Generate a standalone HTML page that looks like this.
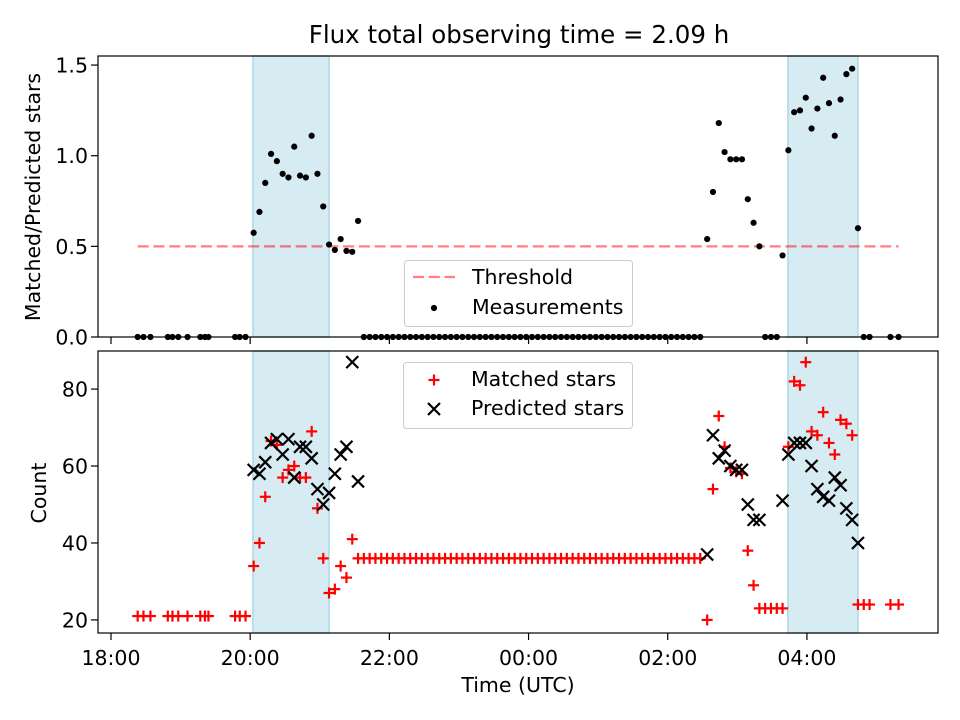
<!DOCTYPE html>
<html><head><meta charset="utf-8"><style>
html,body{margin:0;padding:0;background:#fff;}
svg{display:block;font-family:"DejaVu Sans","Liberation Sans",sans-serif;}
</style></head><body>
<svg id="chart" width="960" height="720" viewBox="0 0 960 720"></svg>
<script>
// minutes since 18:00
const times = [23,28,34,49,53,58,66,77,81,84,107,111,116,
123,128,133,138,143,148,153,158,163,168,173,178,183,188,193,198,203,208,213,
218,223,228,233,238,243,248,253,258,263,268,273,278,283,288,293,298,303,308,313,318,323,328,333,338,343,348,353,358,363,368,373,378,383,388,393,398,403,408,413,418,423,428,433,438,443,448,453,458,463,468,473,478,483,488,493,498,503,508,
514,519,524,529,534,539,544,549,554,559,564,569,574,579,584,589,594,599,604,609,614,619,624,629,634,639,644,649,654,672,679];
const ratio = [0,0,0,0,0,0,0,0,0,0,0,0,0,
0.575,0.69,0.85,1.01,0.97,0.90,0.88,1.05,0.89,0.88,1.11,0.90,0.72,0.51,0.48,0.54,0.475,0.47,0.64,
0,0,0,0,0,0,0,0,0,0,0,0,0,0,0,0,0,0,0,0,0,0,0,0,0,0,0,0,0,0,0,0,0,0,0,0,0,0,0,0,0,0,0,0,0,0,0,0,0,0,0,0,0,0,0,0,0,0,0,
0.54,0.80,1.18,1.02,0.98,0.98,0.98,0.76,0.63,0.50,0,0,0,0.45,1.03,1.24,1.25,1.32,1.15,1.26,1.43,1.29,1.11,1.31,1.45,1.48,0.60,0,0,0,0];
const matched = [21,21,21,21,21,21,21,21,21,21,21,21,21,
34,40,52,66.5,65.5,57,59,60,57,57,69,49,36,27,28,34,31,41,36,
36,36,36,36,36,36,36,36,36,36,36,36,36,36,36,36,36,36,36,36,36,36,36,36,36,36,36,36,36,36,36,36,36,36,36,36,36,36,36,36,36,36,36,36,36,36,36,36,36,36,36,36,36,36,36,36,36,36,36,
20,54,73,65,59.5,58.5,58,38,29,23,23,23,23,23,65,82,81,87,69,68,74,66,63,72,71,68,24,24,24,24,24];
const predicted = [null,null,null,null,null,null,null,null,null,null,null,null,null,
59,58,61,66,67,63,67,57,65,65,62,54,50,53,58,63,65,87,56,
null,null,null,null,null,null,null,null,null,null,null,null,null,null,null,null,null,null,null,null,null,null,null,null,null,null,null,null,null,null,null,null,null,null,null,null,null,null,null,null,null,null,null,null,null,null,null,null,null,null,null,null,null,null,null,null,null,null,null,
37,68,62,64,60,59,59,50,46,46,null,null,null,51,63,66,66,66,60,54,52,51,57,55,49,46,40,null,null,null,null];
const windows = [[122.4,188],[583.6,644]];
const threshold = 0.5;
const xTicks = [0,120,240,360,480,600];
const xTickLabels = ["18:00","20:00","22:00","00:00","02:00","04:00"];
const yTopTicks = [0,0.5,1.0,1.5];
const yTopLabels = ["0.0","0.5","1.0","1.5"];
const yBotTicks = [20,40,60,80];
const yBotLabels = ["20","40","60","80"];

const FS='20.5';
const NS="http://www.w3.org/2000/svg";
const svg=document.getElementById('chart');
function el(tag,attrs,parent){const e=document.createElementNS(NS,tag);for(const k in attrs)e.setAttribute(k,attrs[k]);(parent||svg).appendChild(e);return e;}
const L=98,R=938;
const xmin=-11.2,xmax=713;
function X(m){return L+(m-xmin)/(xmax-xmin)*(R-L);}
const T1=56,B1=337,T2=351,B2=633;
function Y1(v){return B1-(v-0)/(1.55-0)*(B1-T1);}
const bmin=16.6,bmax=89.9;
function Y2(v){return B2-(v-bmin)/(bmax-bmin)*(B2-T2);}

let t=el('text',{x:519,y:43,'text-anchor':'middle','font-size':'24.5'});t.textContent='Flux total observing time = 2.09 h';


function panel(T,B,name){
  const g=el('g',{});
  
  windows.forEach((w,i)=>{
    const r=el('rect',{x:X(w[0]),y:T,width:X(w[1])-X(w[0]),height:B-T,fill:'#add8e6','fill-opacity':'0.5',stroke:'#add8e6','stroke-width':1.5},g);
    
  });
  return g;
}
function frame(T,B,g,showLabels){
  el('rect',{x:L,y:T,width:R-L,height:B-T,fill:'none',stroke:'#000','stroke-width':1.2},g);
  xTicks.forEach((v,i)=>{
    el('line',{x1:X(v),x2:X(v),y1:B,y2:B+7,stroke:'#000','stroke-width':1.2},g);
    if(showLabels){const tt=el('text',{x:X(v),y:B+32,'text-anchor':'middle','font-size':FS},g);tt.textContent=xTickLabels[i];
      }
  });
}

const g1=panel(T1,B1,'ratio-panel');
const thr=el('line',{x1:X(times[0]),x2:X(times[times.length-1]),y1:Y1(threshold),y2:Y1(threshold),stroke:'#ff0000','stroke-opacity':'0.5','stroke-width':2.2,'stroke-dasharray':'11,4.8'},g1);

ratio.forEach((v,i)=>{
  if(v===null)return;
  const c=el('circle',{cx:X(times[i]),cy:Y1(v),r:3.1,fill:'#000'},g1);
  
});
frame(T1,B1,g1,false);
yTopTicks.forEach((v,i)=>{
  el('line',{x1:L-7,x2:L,y1:Y1(v),y2:Y1(v),stroke:'#000','stroke-width':1.2},g1);
  const tt=el('text',{x:L-10,y:Y1(v)+7.5,'text-anchor':'end','font-size':FS},g1);tt.textContent=yTopLabels[i];
  
});
let yl=el('text',{x:0,y:0,'text-anchor':'middle','font-size':FS,transform:'translate(40,197) rotate(-90)'});yl.textContent='Matched/Predicted stars';


const lg1=el('g',{});

el('rect',{x:404.5,y:260.5,width:228,height:66,rx:3,fill:'#fff','fill-opacity':'0.8',stroke:'#ccc'},lg1);
el('line',{x1:413,x2:455,y1:277,y2:277,stroke:'#ff0000','stroke-opacity':'0.5','stroke-width':2.2,'stroke-dasharray':'11,4.8'},lg1);
el('circle',{cx:434,cy:308,r:3.1,fill:'#000'},lg1);
let lt=el('text',{x:472,y:284,'font-size':FS},lg1);lt.textContent='Threshold';

lt=el('text',{x:472,y:314,'font-size':FS},lg1);lt.textContent='Measurements';


const g2=panel(T2,B2,'count-panel');
function plus(cx,cy,parent){const g=el('g',{},parent);
  el('line',{x1:cx-5.5,x2:cx+5.5,y1:cy,y2:cy,stroke:'#f00','stroke-width':2.2},g);
  el('line',{x1:cx,x2:cx,y1:cy-5.5,y2:cy+5.5,stroke:'#f00','stroke-width':2.2},g);return g;}
function cross(cx,cy,parent){const g=el('g',{},parent);
  el('line',{x1:cx-6,x2:cx+6,y1:cy-6,y2:cy+6,stroke:'#000','stroke-width':2.2},g);
  el('line',{x1:cx-6,x2:cx+6,y1:cy+6,y2:cy-6,stroke:'#000','stroke-width':2.2},g);return g;}
matched.forEach((v,i)=>{
  if(v===null)return;
  const m=plus(X(times[i]),Y2(v),g2);
  
});
predicted.forEach((v,i)=>{
  if(v===null)return;
  const m=cross(X(times[i]),Y2(v),g2);
  
});
frame(T2,B2,g2,true);
yBotTicks.forEach((v,i)=>{
  el('line',{x1:L-7,x2:L,y1:Y2(v),y2:Y2(v),stroke:'#000','stroke-width':1.2},g2);
  const tt=el('text',{x:L-10,y:Y2(v)+7.5,'text-anchor':'end','font-size':FS},g2);tt.textContent=yBotLabels[i];
  
});
yl=el('text',{x:0,y:0,'text-anchor':'middle','font-size':FS,transform:'translate(46,493) rotate(-90)'});yl.textContent='Count';

let xl=el('text',{x:518,y:692,'text-anchor':'middle','font-size':FS});xl.textContent='Time (UTC)';


const lg2=el('g',{});

el('rect',{x:403.5,y:362.5,width:229,height:66,rx:3,fill:'#fff','fill-opacity':'0.8',stroke:'#ccc'},lg2);
plus(434,380,lg2);cross(434,409,lg2);
lt=el('text',{x:471,y:386,'font-size':FS},lg2);lt.textContent='Matched stars';

lt=el('text',{x:471,y:415,'font-size':FS},lg2);lt.textContent='Predicted stars';

</script>
</body></html>
